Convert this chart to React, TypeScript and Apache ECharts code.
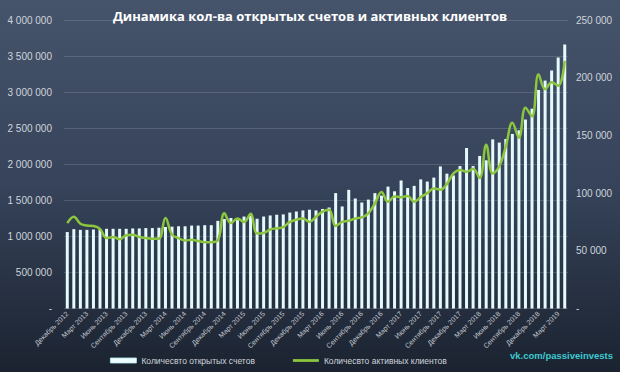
import React, { useEffect, useRef } from "react";
import * as echarts from "echarts";

const categories: string[] = [
  "Декабрь 2012",
  "Январь 2013", "Февраль 2013", "Март 2013", "Апрель 2013", "Май 2013", "Июнь 2013", "Июль 2013", "Август 2013", "Сентябрь 2013", "Октябрь 2013", "Ноябрь 2013", "Декабрь 2013",
  "Январь 2014", "Февраль 2014", "Март 2014", "Апрель 2014", "Май 2014", "Июнь 2014", "Июль 2014", "Август 2014", "Сентябрь 2014", "Октябрь 2014", "Ноябрь 2014", "Декабрь 2014",
  "Январь 2015", "Февраль 2015", "Март 2015", "Апрель 2015", "Май 2015", "Июнь 2015", "Июль 2015", "Август 2015", "Сентябрь 2015", "Октябрь 2015", "Ноябрь 2015", "Декабрь 2015",
  "Январь 2016", "Февраль 2016", "Март 2016", "Апрель 2016", "Май 2016", "Июнь 2016", "Июль 2016", "Август 2016", "Сентябрь 2016", "Октябрь 2016", "Ноябрь 2016", "Декабрь 2016",
  "Январь 2017", "Февраль 2017", "Март 2017", "Апрель 2017", "Май 2017", "Июнь 2017", "Июль 2017", "Август 2017", "Сентябрь 2017", "Октябрь 2017", "Ноябрь 2017", "Декабрь 2017",
  "Январь 2018", "Февраль 2018", "Март 2018", "Апрель 2018", "Май 2018", "Июнь 2018", "Июль 2018", "Август 2018", "Сентябрь 2018", "Октябрь 2018", "Ноябрь 2018", "Декабрь 2018",
  "Январь 2019", "Февраль 2019", "Март 2019", "Апрель 2019",
];

// Количество открытых счетов (left axis)
const openAccounts: number[] = [
  1060000, 1100000, 1090000, 1090000, 1095000, 1100000, 1105000, 1105000, 1105000, 1105000,
  1110000, 1110000, 1115000, 1115000, 1120000, 1130000, 1135000, 1140000, 1140000, 1150000,
  1150000, 1155000, 1155000, 1215000, 1240000, 1255000, 1225000, 1275000, 1290000, 1245000,
  1275000, 1290000, 1300000, 1305000, 1330000, 1345000, 1360000, 1370000, 1360000, 1380000,
  1400000, 1600000, 1415000, 1645000, 1525000, 1470000, 1510000, 1600000, 1565000, 1690000,
  1625000, 1775000, 1670000, 1700000, 1790000, 1760000, 1815000, 1970000, 1870000, 1845000,
  1975000, 2225000, 1975000, 2115000, 2055000, 2345000, 2300000, 2350000, 2420000, 2470000,
  2620000, 2770000, 3030000, 3160000, 3300000, 3480000, 3660000,
];

// Количество активных клиентов (right axis)
const activeClients: number[] = [
  74000, 79500, 73500, 72000, 71500, 69000, 61000, 62000, 60000, 63500,
  64000, 62000, 61000, 60500, 60500, 78500, 64000, 61000, 59000, 59500,
  58500, 57500, 57500, 59000, 82500, 74000, 78000, 75000, 82000, 65000,
  65500, 68500, 69500, 70500, 75000, 77000, 78000, 75000, 79500, 84000,
  85500, 71500, 75000, 76000, 78000, 79000, 82500, 91000, 101000, 92500,
  97000, 96500, 97500, 92500, 96500, 100000, 104000, 103000, 108000, 117000,
  120000, 118500, 121000, 113000, 142000, 117000, 123000, 140500, 161000, 148000,
  174000, 166500, 203000, 190000, 196000, 193000, 214500,
];

const leftTicks = { min: 0, max: 4000000, interval: 500000 };
const rightTicks = { min: 0, max: 250000, interval: 50000 };

const TITLE = "Динамика кол-ва открытых счетов и активных клиентов";
const SERIES_BAR = "Количесвто открытых счетов";
const SERIES_LINE = "Количесвто активных клиентов";
const WATERMARK = "vk.com/passiveinvests";

const fmt = (v: number) =>
  v === 0 ? "-" : String(v).replace(/\B(?=(\d{3})+(?!\d))/g, " ");

export default function App() {
  const ref = useRef<HTMLDivElement>(null);

  useEffect(() => {
    if (!ref.current) return;
    const chart = echarts.init(ref.current, undefined, { renderer: "svg" });
    const axisText = { color: "#cfd4db", fontSize: 10, fontFamily: "Liberation Sans, Arial, sans-serif" };
    chart.setOption({
      animation: false,
      backgroundColor: new echarts.graphic.LinearGradient(0, 0, 0, 1, [
        { offset: 0, color: "#46546b" },
        { offset: 0.5, color: "#36435a" },
        { offset: 1, color: "#1b2330" },
      ]),
      title: {
        text: TITLE,
        left: "center",
        top: 4,
        textStyle: {
          color: "#ffffff",
          fontSize: 13,
          fontWeight: "bold",
          fontFamily: "Open Sans, sans-serif",
        },
      },
      grid: { left: 64, right: 52, top: 20, bottom: 63.5, containLabel: false },
      legend: {
        left: 105,
        top: 351,
        itemGap: 38,
        textStyle: { color: "#cfd4db", fontSize: 8.5, fontFamily: "Liberation Sans, Arial, sans-serif" },
        data: [
          {
            name: SERIES_BAR,
            icon: "rect",
            itemStyle: { color: "#eefdff", borderColor: "#b8eef4", borderWidth: 0.8 },
          },
          { name: SERIES_LINE, icon: "path://M0 0h28v3H0z", itemStyle: { color: "#8cc63e" } },
        ],
        itemWidth: 26,
        itemHeight: 5,
      },
      xAxis: {
        type: "category",
        data: categories,
        boundaryGap: true,
        axisLine: { show: false },
        axisTick: { show: false },
        axisLabel: {
          interval: 2,
          rotate: 45,
          color: "#c3c8cf",
          fontSize: 7,
          margin: 4,
          fontFamily: "Liberation Sans, Arial, sans-serif",
        },
      },
      yAxis: [
        {
          type: "value",
          ...leftTicks,
          axisLine: { show: false },
          axisTick: { show: false },
          axisLabel: { ...axisText, margin: 12, formatter: fmt },
          splitLine: { lineStyle: { color: "rgba(255,255,255,0.14)", width: 1 } },
        },
        {
          type: "value",
          ...rightTicks,
          axisLine: { show: false },
          axisTick: { show: false },
          axisLabel: { ...axisText, margin: 8, formatter: fmt },
          splitLine: { show: false },
        },
      ],
      series: [
        {
          name: SERIES_BAR,
          type: "bar",
          data: openAccounts,
          yAxisIndex: 0,
          barWidth: 3,
          itemStyle: { color: "#e4fafd" },
        },
        {
          name: SERIES_LINE,
          type: "line",
          data: activeClients,
          yAxisIndex: 1,
          smooth: 0.4,
          symbol: "none",
          lineStyle: { color: "#8cc63e", width: 2.5 },
          itemStyle: { color: "#8cc63e" },
        },
      ],
      graphic: [
        {
          type: "text",
          left: 510,
          top: 350,
          style: {
            text: WATERMARK,
            fill: "#3cc9d2",
            font: "bold 9.5px Liberation Sans, Arial, sans-serif",
          },
        },
      ],
    });
    return () => chart.dispose();
  }, []);

  return (
    <div
      ref={ref}
      style={{ position: "fixed", left: 0, top: 0, width: 620, height: 372 }}
    />
  );
}
